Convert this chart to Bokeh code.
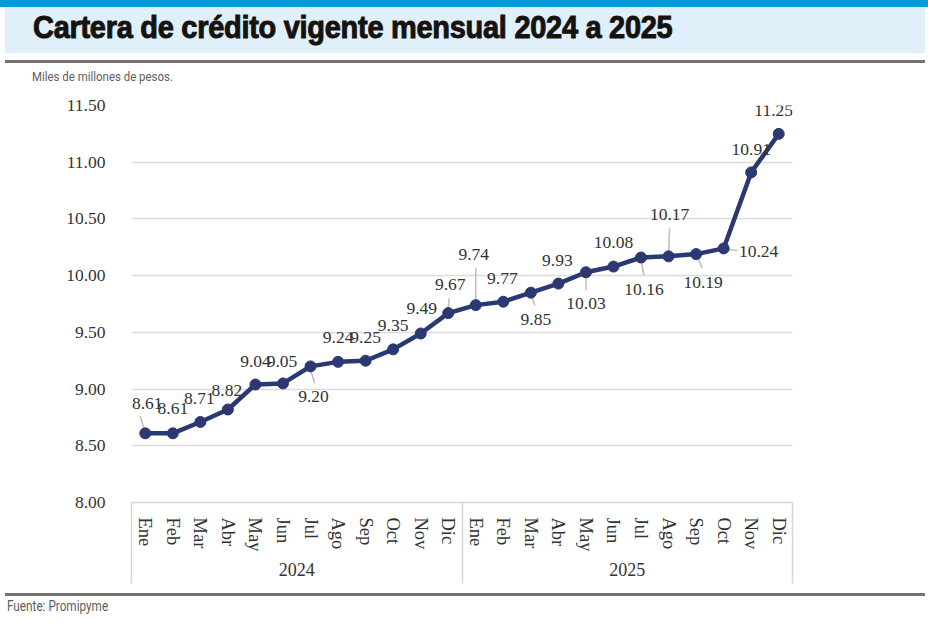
from bokeh.plotting import figure
from bokeh.models import (FactorRange, Range1d, FixedTicker, PrintfTickFormatter,
                          LinearAxis, CategoricalAxis, ColumnDataSource, LabelSet, Div)
from bokeh.layouts import column
from bokeh.embed import file_html
from bokeh.resources import INLINE

# ---------------- data ----------------
years = ["2024", "2025"]
months = ["Ene", "Feb", "Mar", "Abr", "May", "Jun", "Jul", "Ago", "Sep", "Oct", "Nov", "Dic"]
values_2024 = [8.61, 8.61, 8.71, 8.82, 9.04, 9.05, 9.20, 9.24, 9.25, 9.35, 9.49, 9.67]
values_2025 = [9.74, 9.77, 9.85, 9.93, 10.03, 10.08, 10.16, 10.17, 10.19, 10.24, 10.91, 11.25]
y_ticks = [8.0, 8.5, 9.0, 9.5, 10.0, 10.5, 11.0, 11.5]

title_text = "Cartera de crédito vigente mensual 2024 a 2025"
unit_text = "Miles de millones de pesos."
source_text = "Fuente: Promipyme"

# ---------------- label styling (pixel offsets, +dy = downwards) ----------------
label_dx = [2, 0, -1, -1, 0, -1, 3, 0, 0, 0, 1, 2,
            -2, -1, 5, -1, 0, 0, 3, 1, 7, 35, 0, -5]
label_dy = [-30, -25, -23, -19, -23, -22, 30, -24, -23, -24, -25, -29,
            -51, -23, 27, -23, 31, -24, 32, -42, 28, 3, -23, -23]
# leader lines: (index, x0, y0, x1, y1) in pixel offsets from the point
leaders = [(0, -1, -4, -5, -17), (6, 0, 3, 4, 17), (11, 0, -4, 1, -15),
           (12, 0, -3, 0, -37), (14, 1, 3, 4, 13), (16, 0, 3, 0, 18),
           (18, 0, 3, 3, 18), (19, 0, -3, 1, -28), (20, 1, 2, 6, 14),
           (21, 4, 1, 14, 2)]

NAVY = "#2B3872"
SERIF = "Liberation Serif"
TXT = "#333333"

W = 928
HEAD_H, CHART_H, FOOT_H = 90, 500, 40
FL, FR = 131, 792            # frame left/right (px)
FT, FB = 15, 412             # frame top/bottom inside the chart figure (px)

# ---------------- header (HTML) ----------------
header_html = f"""
<div style="position:relative;width:{W}px;height:{HEAD_H}px;overflow:hidden;">
  <div style="position:absolute;left:0;top:0;width:{W}px;height:7px;background:#009ADB;"></div>
  <div style="position:absolute;left:5px;top:7px;width:920px;height:46px;background:#E0F0FA;"></div>
  <div style="position:absolute;left:33px;top:9px;line-height:36px;white-space:nowrap;
              font-family:'Liberation Sans',Arial,sans-serif;font-weight:bold;font-size:32px;
              color:#161210;-webkit-text-stroke:1px #161210;letter-spacing:-0.3px;
              transform:scaleX(0.905);transform-origin:0 50%;">{title_text}</div>
  <div style="position:absolute;left:5px;top:60px;width:920px;height:2.5px;background:#757070;"></div>
  <div style="position:absolute;left:32px;top:69px;line-height:15px;white-space:nowrap;
              font-family:Roboto,sans-serif;font-size:12.5px;color:#606060;
              transform:scaleX(0.915);transform-origin:0 50%;">{unit_text}</div>
</div>
"""
hdr = Div(text=header_html, width=W, height=HEAD_H, margin=(0, 0, 0, 0))

# ---------------- main chart ----------------
factors = [(y, m) for y in years for m in months]
vals = values_2024 + values_2025

p = figure(width=W, height=CHART_H,
           x_range=FactorRange(*factors, factor_padding=0, group_padding=0,
                               subgroup_padding=0, range_padding=0),
           y_range=Range1d(8.0, 11.5), output_backend="svg", toolbar_location=None,
           min_border_left=FL, min_border_right=W - FR, min_border_top=FT,
           min_border_bottom=CHART_H - FB, outline_line_color=None, x_axis_location=None)

yax = p.yaxis[0]
yax.ticker = FixedTicker(ticks=y_ticks)
yax.formatter = PrintfTickFormatter(format="%.2f")
yax.axis_line_color = None
yax.major_tick_line_color = None
yax.minor_tick_line_color = None
yax.major_label_standoff = 20
yax.major_label_text_font = SERIF
yax.major_label_text_font_size = "17.5px"
yax.major_label_text_color = TXT
p.xgrid.visible = False
p.ygrid.grid_line_color = "#DCDCDC"
p.ygrid.grid_line_width = 1.5

# box edges at category-group boundaries, then nested category labels
edge_axis = LinearAxis(ticker=FixedTicker(ticks=[0, 12, 24]),
                       major_tick_in=-81, major_tick_out=0,
                       major_tick_line_color="#D6D6D6", major_tick_line_width=1.5,
                       minor_tick_line_color=None, axis_line_color="#D6D6D6",
                       axis_line_width=1.5, major_label_text_font_size="0px",
                       major_label_text_color=None, major_label_standoff=0)
cat_axis = CategoricalAxis(axis_line_color=None, major_tick_line_color=None,
                           minor_tick_line_color=None, separator_line_color=None,
                           major_label_orientation="vertical", major_label_standoff=9,
                           major_label_text_font=SERIF, major_label_text_font_size="18.5px",
                           major_label_text_color=TXT, group_text_font=SERIF,
                           group_text_font_style="normal",
                           group_text_font_size="18px", group_text_color=TXT,
                           group_label_orientation="horizontal")
p.below = [edge_axis, cat_axis]

src = ColumnDataSource(dict(x=factors, y=vals,
                            lab=["%.2f" % v for v in vals],
                            dx=label_dx, dy=[-d for d in label_dy]))

PXX = (FR - FL) / 24.0
PXY = (FB - FT) / 3.5
lx0, ly0, lx1, ly1 = [], [], [], []
for i, a, b, c, d in leaders:
    yr, mo = factors[i]
    lx0.append((yr, mo, a / PXX)); ly0.append(vals[i] - b / PXY)
    lx1.append((yr, mo, c / PXX)); ly1.append(vals[i] - d / PXY)
p.segment(x0=lx0, y0=ly0, x1=lx1, y1=ly1, line_color="#BDBDBD", line_width=1.5)

p.line(x="x", y="y", source=src, line_color=NAVY, line_width=4.5)
p.scatter(x="x", y="y", source=src, size=11, fill_color=NAVY, line_color=NAVY)
p.add_layout(LabelSet(x="x", y="y", text="lab", source=src, x_offset="dx", y_offset="dy",
                      text_font=SERIF, text_font_size="17.5px", text_color=TXT,
                      text_align="center", text_baseline="middle"))

# ---------------- footer (HTML) ----------------
footer_html = f"""
<div style="position:relative;width:{W}px;height:{FOOT_H}px;overflow:hidden;">
  <div style="position:absolute;left:5px;top:3px;width:920px;height:2.5px;background:#757070;"></div>
  <div style="position:absolute;left:7px;top:8px;line-height:17px;white-space:nowrap;
              font-family:Roboto,sans-serif;font-size:14.5px;color:#606060;
              transform:scaleX(0.81);transform-origin:0 50%;">{source_text}</div>
</div>
"""
ftr = Div(text=footer_html, width=W, height=FOOT_H, margin=(0, 0, 0, 0))

layout = column(hdr, p, ftr, spacing=0)
open("out.html", "w").write(file_html(layout, INLINE))
